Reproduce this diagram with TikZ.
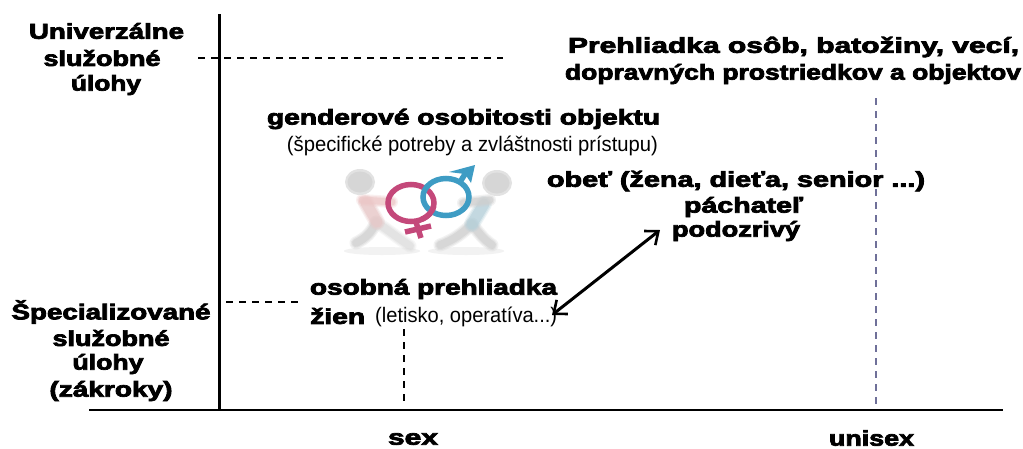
\documentclass[tikz,border=0pt]{standalone}
\usepackage{fontspec}
\usepackage{graphicx}
\setmainfont{Liberation Sans}
\newfontfamily\heavyfont[FakeBold=3.2]{Liberation Sans Bold}
\usetikzlibrary{arrows.meta}
% Sets a line to an exact width, keeping its height
\newcommand{\fitw}[2]{\resizebox{#1pt}{\height}{#2}}
% A limb with a soft edge, built from stacked translucent strokes
\newcommand{\softlimb}[3]{%
  \draw[#1,line width=#2pt+5pt,opacity=.25,line cap=round] #3;
  \draw[#1,line width=#2pt+2.5pt,opacity=.35,line cap=round] #3;
  \draw[#1,line width=#2pt,opacity=.6,line cap=round] #3;}
\tikzset{
  x=1pt,y=-1pt,
  heavy/.style={font=\heavyfont\fontsize{21.5}{25}\selectfont,inner sep=0pt,anchor=center,align=center},
  plain label/.style={font=\fontsize{21}{25}\selectfont,inner sep=0pt,anchor=center},
  axis/.style={black,line cap=butt},
  guide/.style={black,line width=1.3pt,dash pattern=on 7pt off 6pt},
  ring/.style={line width=5.5pt},
  barbs/.style={{Straight Barb[length=11pt,width=18pt,line width=2.6pt]}-{Straight Barb[length=11pt,width=18pt,line width=2.6pt]},line width=3pt},
}
\definecolor{ringpink}{HTML}{C4487A}
\definecolor{ringblue}{HTML}{3E9CC4}
\definecolor{figgray}{HTML}{CFCFCF}
\definecolor{guideblue}{HTML}{6F7099}
\begin{document}
\begin{tikzpicture}
\useasboundingbox (0,0) rectangle (1023,448);
\fill[white] (0,0) rectangle (1023,448);

% reference points on the axes
\coordinate (axisTop) at (219.5,14);
\coordinate (axisFoot) at (219.5,411);
\coordinate (baseL) at (89,410);
\coordinate (baseR) at (1003,410);
\coordinate (uniL) at (198,58);
\coordinate (uniR) at (503,58);
\coordinate (specL) at (226,302);
\coordinate (specR) at (300,302);
\coordinate (sexTop) at (404,329);
\coordinate (sexFoot) at (404,406);
\coordinate (unisexTop) at (876,98);
\coordinate (unisexFoot) at (876,410);
\coordinate (arrowA) at (552,315);
\coordinate (arrowB) at (660,230);

% dashed guides
\draw[guide] (uniL) -- (uniR);
\draw[guide] (specL) -- (specR);
\draw[guide] (sexTop) -- (sexFoot);
\draw[guide,guideblue] (unisexTop) -- (unisexFoot);

% axes
\draw[axis,line width=3.6pt] (axisTop) -- (axisFoot);
\draw[axis,line width=2pt] (baseL) -- (baseR);

% left-hand and right-hand figures pulling on the symbols
\fill[gray!10] (382,251) ellipse (38 and 4);
\fill[gray!10] (466,251) ellipse (38 and 4);
\softlimb{figgray}{8}{(376,222) .. controls (372,232) and (366,238) .. (356,243)}
\softlimb{figgray!70}{8}{(376,222) .. controls (388,230) and (398,238) .. (410,246)}
\softlimb{pink!50!figgray}{11}{(366,203) -- (377,222)}
\softlimb{pink!60!figgray}{7}{(362,200) -- (392,202)}
\softlimb{figgray}{8}{(472,224) .. controls (464,232) and (454,240) .. (440,245)}
\softlimb{figgray}{8}{(472,224) .. controls (478,232) and (484,240) .. (492,245)}
\softlimb{cyan!18!figgray}{11}{(484,204) -- (472,224)}
\softlimb{figgray}{7}{(490,200) -- (463,203)}
\fill[figgray!60] (360,182) ellipse (15 and 13);
\fill[figgray!85] (360,182) ellipse (12.5 and 10.5);
\fill[figgray!60] (497,183) ellipse (15 and 13);
\fill[figgray!85] (497,183) ellipse (12.5 and 10.5);

% intertwined gender symbols
\draw[ringpink,ring] (411,203) ellipse (23 and 18.5);
\draw[ringpink,ring] (416,222) -- (421,238);
\draw[ringpink,ring] (405,232) -- (431,226);
\draw[ringblue,ring] (446,197) ellipse (23 and 18.5);
\draw[ringblue,ring] (460,182) -- (467,171);
\fill[ringblue] (449,172) -- (475,165) -- (471,183) -- (465,174) -- cycle;
\draw[ringpink,ring] (433.65,206.2) arc (10:62:23 and 18.5);

% left-hand row labels
\node[heavy] (uni1) at (106.5,31) {\fitw{155}{Univerzálne}};
\node[heavy] (uni2) at (102,58) {\fitw{117}{služobné}};
\node[heavy] (uni3) at (106,85) {\fitw{70}{úlohy}};
\node[heavy] (spec1) at (111,312) {\fitw{199}{Špecializované}};
\node[heavy] (spec2) at (111,338) {\fitw{117}{služobné}};
\node[heavy] (spec3) at (108,364) {\fitw{71}{úlohy}};
\node[heavy] (spec4) at (111,391) {\fitw{123}{(zákroky)}};

% text inside the chart
\node[heavy] (all1) at (793.5,47) {\fitw{451}{Prehliadka osôb, batožiny, vecí,}};
\node[heavy] (all2) at (793,74) {\fitw{456}{dopravných prostriedkov a objektov}};
\node[heavy] (gen1) at (463.5,119) {\fitw{393}{genderové osobitosti objektu}};
\node[plain label] (gen2) at (472.5,146) {\fitw{371}{(špecifické potreby a zvláštnosti prístupu)}};
\node[heavy] (who1) at (736,181) {\fitw{378}{obeť (žena, dieťa, senior ...)}};
\node[heavy] (who2) at (743.5,207) {\fitw{119}{páchateľ}};
\node[heavy] (who3) at (736,231) {\fitw{128}{podozrivý}};
\node[heavy] (search1) at (433.5,289) {\fitw{247}{osobná prehliadka}};
\node[heavy,anchor=west] (search2) at (310,316) {\fitw{55}{žien}};
\node[plain label,anchor=west] (search3) at (375,317) {\fitw{182}{(letisko, operatíva...)}};

% axis captions
\node[heavy] (sex) at (413,439) {\fitw{50}{sex}};
\node[heavy] (unisex) at (871.5,438) {\fitw{85}{unisex}};

% link between the search note and the persons concerned
\draw[barbs] (arrowA) -- (arrowB);
\end{tikzpicture}
\end{document}
